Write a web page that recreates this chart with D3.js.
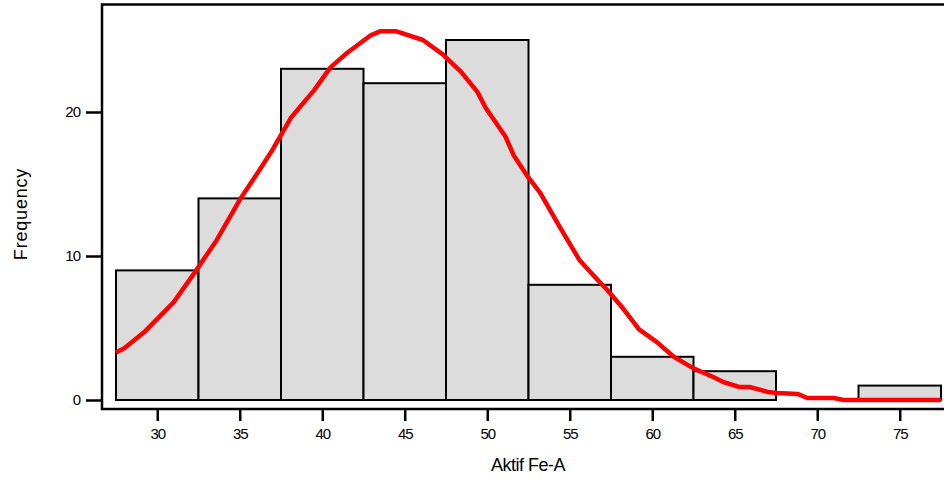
<!DOCTYPE html>
<html>
<head>
<meta charset="utf-8">
<script src="https://cdn.jsdelivr.net/npm/d3@7"></script>
<style>
  body { margin: 0; background: #fff; }
  svg { display: block; font-family: "Liberation Sans", Arial, sans-serif; }
</style>
</head>
<body>
<div id="chart"></div>
<script>
// Histogram bins (lower / upper edges) and counts
const binStarts = [27.5, 32.5, 37.5, 42.5, 47.5, 52.5, 57.5, 62.5, 67.5, 72.5];
const binWidth = 5;
const counts = [9, 14, 23, 22, 25, 8, 3, 2, 0, 1];

// Normal curve (value, frequency)
const curveX = [27.5, 28.0, 29.2, 31.0, 32.3, 33.6, 35.0, 36.1, 37.0, 38.1, 39.5, 40.5, 41.5,
    42.9, 43.5, 44.5, 46.1, 47.3, 48.4, 49.4, 49.9, 51.1, 51.6, 52.4, 53.2, 54.4, 55.6, 56.4,
    57.3, 58.2, 59.2, 60.3, 61.3, 62.5, 63.7, 64.3, 65.3, 65.9, 67.0, 67.6, 68.8, 69.4, 71.0,
    71.6, 77.5];
const curveY = [3.3, 3.6, 4.7, 6.8, 8.9, 11.1, 13.9, 15.8, 17.4, 19.6, 21.5, 23.1, 24.1,
    25.3, 25.6, 25.6, 25.0, 24.0, 22.8, 21.4, 20.3, 18.3, 17.0, 15.6, 14.4, 12.0, 9.7, 8.7,
    7.6, 6.4, 4.9, 4.0, 3.0, 2.2, 1.6, 1.25, 0.9, 0.9, 0.56, 0.49, 0.42, 0.14, 0.14,
    0, 0];

const xTicks = [30, 35, 40, 45, 50, 55, 60, 65, 70, 75];
const yTicks = [0, 10, 20];

const width = 944, height = 480;

const svg = d3.select('#chart')
    .append('svg')
    .attr('width', width)
    .attr('height', height);

const x = d3.scaleLinear().domain([27.5, 77.5]).range([116, 941]);
const y = d3.scaleLinear().domain([0, 20]).range([400, 112]);

// Frame (right side runs off the picture)
svg.append('rect')
    .attr('x', 102)
    .attr('y', 4.5)
    .attr('width', 900)
    .attr('height', 404.5)
    .attr('fill', 'none')
    .attr('stroke', '#000')
    .attr('stroke-width', 2.5);

// Bars
svg.selectAll('rect.bar')
    .data(counts)
    .enter()
    .append('rect')
    .attr('class', 'bar')
    .attr('x', (d, i) => x(binStarts[i]))
    .attr('y', d => y(d))
    .attr('width', (d, i) => x(binStarts[i] + binWidth) - x(binStarts[i]))
    .attr('height', d => y(0) - y(d))
    .attr('fill', '#dcdcdc')
    .attr('stroke', '#000')
    .attr('stroke-width', 2);

// Normal curve
const line = d3.line()
    .x(d => x(d[0]))
    .y(d => y(d[1]));

svg.append('path')
    .datum(curveX.map((v, i) => [v, curveY[i]]))
    .attr('d', line)
    .attr('fill', 'none')
    .attr('stroke', '#ff0000')
    .attr('stroke-width', 4.5)
    .attr('stroke-linejoin', 'round');

// Y axis
const yAxis = svg.append('g')
    .attr('transform', 'translate(102,0)')
    .call(d3.axisLeft(y).tickValues(yTicks).tickSize(16).tickPadding(6).tickFormat(d3.format('d')));
yAxis.select('.domain').remove();
yAxis.selectAll('line').attr('stroke-width', 2.5);
yAxis.selectAll('text')
    .style('font-size', '15px')
    .style('letter-spacing', '-1px')
    .attr('fill', '#000');

// X axis
const xAxis = svg.append('g')
    .attr('transform', 'translate(0,409)')
    .call(d3.axisBottom(x).tickValues(xTicks).tickSize(12).tickPadding(7).tickFormat(d3.format('d')));
xAxis.select('.domain').remove();
xAxis.selectAll('line').attr('stroke-width', 2.5);
xAxis.selectAll('text')
    .style('font-size', '15px')
    .style('letter-spacing', '-1px')
    .attr('fill', '#000');

// Axis titles
svg.append('text')
    .attr('x', 528)
    .attr('y', 471)
    .attr('text-anchor', 'middle')
    .style('font-size', '18px')
    .style('letter-spacing', '-0.5px')
    .text('Aktif Fe-A');

svg.append('text')
    .attr('transform', 'translate(27,214) rotate(-90)')
    .attr('text-anchor', 'middle')
    .style('font-size', '18px')
    .style('letter-spacing', '0.8px')
    .text('Frequency');
</script>
</body>
</html>
